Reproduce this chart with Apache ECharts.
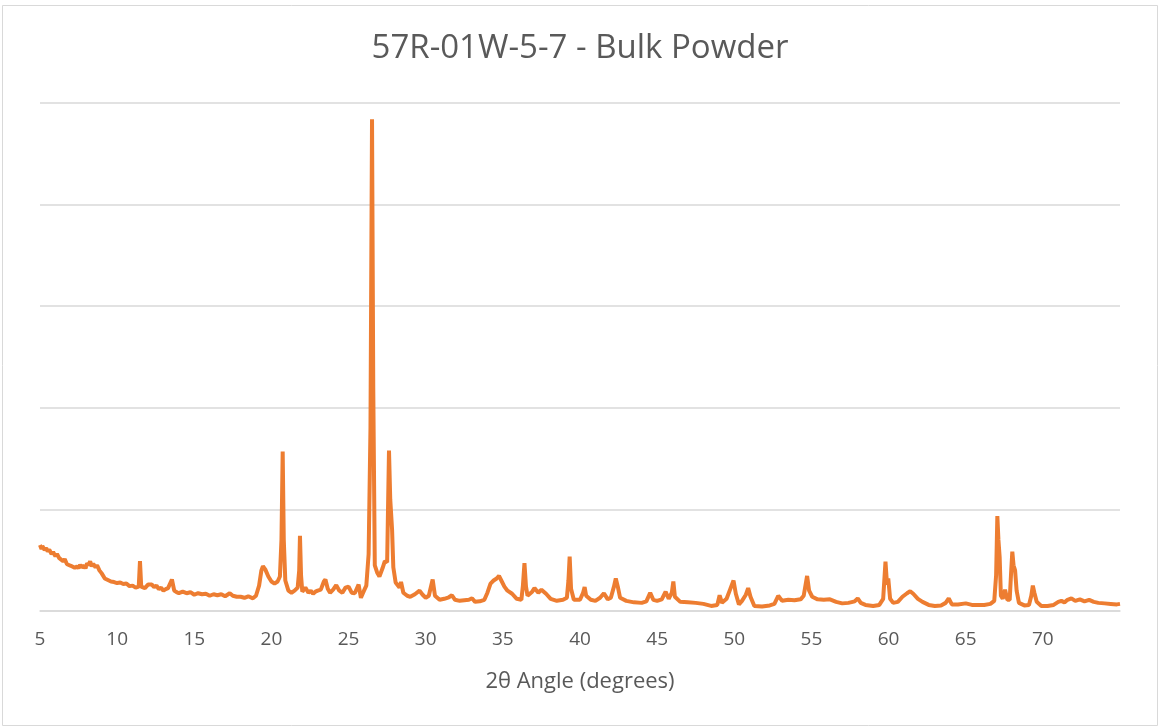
<!DOCTYPE html>
<html>
<head>
<meta charset="utf-8">
<script src="https://cdn.jsdelivr.net/npm/echarts@6/dist/echarts.min.js"></script>
<style>html,body{margin:0;padding:0;background:#fff}#c{width:1160px;height:728px}</style>
</head>
<body>
<div id="c"></div>
<script>
const titleText = "57R-01W-5-7 - Bulk Powder";
const xAxisName = "2\u03B8 Angle (degrees)";
const xTicks = [5,10,15,20,25,30,35,40,45,50,55,60,65,70];

const angles = [
5.0,5.1,5.15,5.3,5.4,5.5,5.6,5.75,5.85,6.0,6.1,6.25,6.35,6.5,6.6,6.75,6.85,7.0,7.1,7.25,
7.4,7.5,7.6,7.7,7.85,7.95,8.05,8.15,8.25,8.35,8.45,8.6,8.7,8.85,
9.0,9.2,9.4,9.6,9.8,10.0,10.2,10.4,10.6,10.8,11.0,11.2,11.4,11.48,11.56,11.8,12.0,12.1,12.25,12.4,12.55,12.7,12.85,13.0,13.15,13.3,13.55,13.7,13.85,14.0,
14.25,14.5,14.75,15.0,15.25,15.5,15.75,16.0,16.25,16.5,16.75,17.0,17.3,17.5,17.75,18.0,18.25,18.5,18.8,19.0,19.2,19.35,19.45,19.6,19.8,20.0,20.2,20.4,
20.55,20.65,20.73,20.8,20.9,21.1,21.3,21.5,21.7,21.8,21.85,21.92,22.0,22.2,22.4,22.55,22.7,22.85,23.0,23.2,23.4,23.5,
23.65,23.8,24.0,24.2,24.4,24.6,24.8,25.0,25.2,25.4,25.65,25.8,26.0,26.15,26.3,26.42,26.52,26.6,26.7,26.85,
27.0,27.2,27.35,27.5,27.62,27.7,27.76,27.82,27.9,28.05,28.3,28.4,28.55,28.8,29.0,29.3,29.6,29.8,30.0,30.2,
30.45,30.6,30.9,31.2,31.5,31.7,31.9,32.2,32.5,32.8,33.0,33.2,33.5,33.8,34.0,34.2,34.4,34.6,34.75,34.9,
35.1,35.3,35.6,35.9,36.2,36.3,36.4,36.5,36.6,36.9,37.05,37.3,37.5,37.8,38.1,38.5,38.9,39.15,39.25,39.33,
39.42,39.6,40.0,40.2,40.3,40.4,40.7,41.0,41.3,41.55,41.8,42.0,42.2,42.32,42.45,42.6,43.0,43.5,44.0,44.3,
44.55,44.75,45.0,45.3,45.55,45.75,45.95,46.05,46.15,46.5,47.0,47.5,48.0,48.5,48.9,49.05,49.2,49.5,49.75,49.95,
50.1,50.3,50.5,50.75,50.9,51.05,51.3,51.8,52.3,52.6,52.85,53.1,53.5,53.9,54.3,54.5,54.72,54.85,55.05,55.4,
55.8,56.2,56.6,57.0,57.4,57.8,58.0,58.2,58.5,59.0,59.4,59.65,59.8,59.9,59.98,60.1,60.3,60.6,60.9,61.2,
61.4,61.6,61.9,62.2,62.6,63.0,63.4,63.7,63.9,64.1,64.5,65.0,65.4,65.8,66.2,66.6,66.85,66.97,67.05,67.12,
67.2,67.28,67.4,67.55,67.7,67.85,67.95,68.02,68.1,68.2,68.3,68.45,68.8,69.1,69.25,69.35,69.45,69.6,69.9,70.3,
70.7,71.0,71.2,71.4,71.6,71.85,72.1,72.4,72.7,73.0,73.3,73.6,74.0,74.4,74.8,75.0
];
const counts = [
650,610,640,600,620,585,605,560,580,540,560,520,535,490,510,460,475,445,455,425,
440,420,455,430,445,420,470,450,490,440,465,430,450,400,
370,320,305,290,285,275,280,265,270,245,250,230,240,490,240,225,260,245,260,235,250,215,230,200,215,225,310,200,185,175,
190,175,185,160,175,165,170,150,165,155,165,145,175,150,140,140,130,145,125,150,250,400,440,410,340,290,270,290,
340,700,1570,700,300,200,180,200,230,400,740,350,190,230,180,200,170,190,200,210,290,310,
220,180,210,255,200,180,230,240,180,175,260,130,200,250,560,1800,4840,2200,450,380,
340,420,490,480,1580,1100,1100,800,430,280,230,285,180,150,140,165,200,160,130,150,
310,150,110,120,135,155,110,100,105,110,125,90,95,110,180,270,300,320,345,300,
240,200,170,120,110,250,470,240,150,190,225,180,210,170,120,100,110,130,300,535,
220,110,110,180,235,150,110,100,130,175,115,130,240,320,240,130,100,85,80,95,
180,110,100,115,190,120,180,290,140,90,85,80,70,50,60,155,80,120,220,300,
170,65,100,160,225,140,50,45,55,70,150,100,110,105,115,150,345,200,140,115,
110,115,90,75,80,95,125,80,60,50,60,120,485,260,320,120,80,90,140,175,
195,170,120,90,60,50,55,80,125,65,65,75,60,60,60,70,100,350,935,700,
530,150,120,210,110,110,400,585,450,400,200,80,55,60,150,250,180,90,50,50,
60,90,100,85,110,125,100,115,95,110,90,80,75,70,65,70
];

const seriesData = angles.map((a, i) => [a, counts[i]]);

const chart = echarts.init(document.getElementById('c'), null, {renderer: 'canvas'});
const font = '"Open Sans", "Liberation Sans", sans-serif';
chart.setOption({
  backgroundColor: '#ffffff',
  animation: false,
  title: {
    text: titleText, left: 'center', top: 27,
    textStyle: {fontFamily: font, fontSize: 33, fontWeight: 'normal', color: '#595959'}
  },
  graphic: [{
    type: 'rect', shape: {x: 2.5, y: 5.5, width: 1155, height: 720},
    style: {fill: 'none', stroke: '#d9d9d9', lineWidth: 1}, silent: true
  }],
  grid: {left: 40, right: 40, top: 103, bottom: 117},
  xAxis: {
    type: 'value', min: 5, max: 75, interval: 5,
    name: xAxisName, nameLocation: 'middle', nameGap: 60,
    nameTextStyle: {fontFamily: font, fontSize: 22, color: '#595959'},
    axisLine: {show: true, lineStyle: {color: '#d9d9d9', width: 1.5}},
    axisTick: {show: false},
    splitLine: {show: false},
    axisLabel: {
      margin: 19, fontFamily: font, fontSize: 19, color: '#595959',
      formatter: v => (xTicks.indexOf(v) >= 0 ? String(v) : '')
    }
  },
  yAxis: {
    type: 'value', min: 0, max: 5000, interval: 1000,
    axisLine: {show: false}, axisTick: {show: false}, axisLabel: {show: false},
    splitLine: {lineStyle: {color: '#d9d9d9', width: 1.5}}
  },
  series: [{
    type: 'line', data: seriesData, showSymbol: false, symbol: 'none',
    lineStyle: {color: '#ED7D31', width: 4}, itemStyle: {color: '#ED7D31'}
  }]
});
</script>
</body>
</html>
